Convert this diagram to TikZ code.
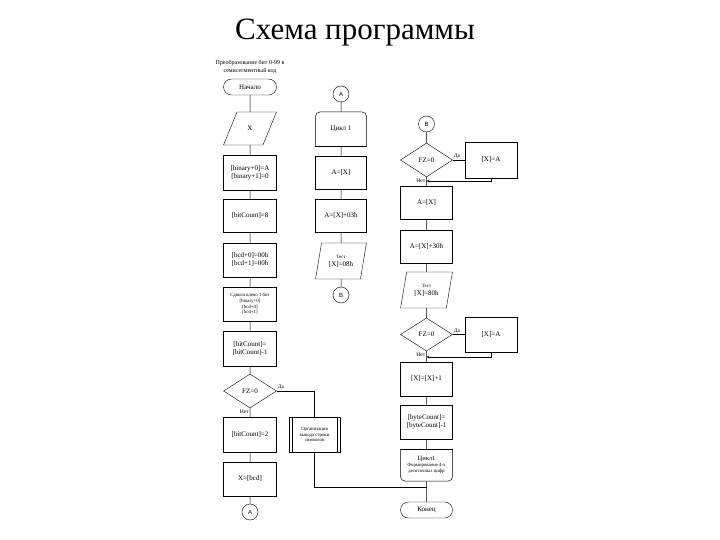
\documentclass[tikz,border=0pt]{standalone}
\usepackage{fontspec}
\setmainfont{Liberation Serif}
\newfontfamily\sansf{Liberation Sans}
\usetikzlibrary{shapes.geometric,arrows.meta}
\begin{document}
\begin{tikzpicture}[x=1pt,y=-1pt,
  every node/.style={font=\fontsize{7}{8}\selectfont, inner sep=1pt},
  box/.style={draw, minimum width=53pt, minimum height=#1, align=center},
  box/.default=34pt,
  term/.style={draw, rounded corners=8pt, minimum width=53pt, minimum height=16pt},
  io/.style={draw, trapezium, trapezium stretches=true, minimum width=53pt, minimum height=#1, align=center, inner sep=0pt},
  io/.default=36pt,
  decis/.style={draw, diamond, minimum width=52pt, minimum height=34pt, inner sep=0pt},
  conn/.style={draw, circle, minimum size=16pt, inner sep=0pt, font=\sansf\fontsize{6}{7}\selectfont},
  lbl/.style={font=\fontsize{5.5}{6}\selectfont, inner sep=1pt},
  small/.style={font=\fontsize{4.8}{5.6}\selectfont},
  flow/.style={line width=0.5pt},
  ret/.style={line width=0.5pt, -{Stealth[length=3pt,width=2.5pt]}}
]
\useasboundingbox (0,0) rectangle (720,540);
\node[font=\fontsize{31}{34}\selectfont] (title) at (355,33) {Схема программы};

% left column
\node[font=\fontsize{6}{7.5}\selectfont, align=center] (hdr) at (250,67) {Преобразование бит 0-99 в\\семисегментный код};
\node[term] (start) at (250,87) {Начало};
\node[io=33pt, trapezium left angle=60, trapezium right angle=120] (x) at (250,128.5) {X};
\node[box=35pt] (bin) at (250,172.5) {[binary+0]=A\\{}[binary+1]=0};
\node[box=33pt] (bc8) at (250,215.5) {[bitCount]=8};
\node[box=34pt] (bcd) at (250,260) {[bcd+0]=00h\\{}[bcd+1]=00h};
\node[box=34pt, small] (shift) at (250,304) {Сдвиги влево 1 бит\\{}[binary+0]\\{}[bcd+0]\\{}[bcd+1]};
\node[box=35pt] (dec) at (250,348.5) {[bitCount]=\\{}[bitCount]-1};
\node[decis, minimum width=53pt] (fz1) at (250,391) {FZ=0};
\node[box=35pt] (bc2) at (250,434.5) {[bitCount]=2};
\node[box=34pt] (xbcd) at (250,479) {X=[bcd]};
\node[conn] (a1) at (250,512) {A};
\node[box=35pt, minimum width=51pt, small] (org) at (314.5,434.5) {Организация\\вывода строки\\символов};
\draw[flow] ([xshift=3pt]org.north west) -- ([xshift=3pt]org.south west);
\draw[flow] ([xshift=-3pt]org.north east) -- ([xshift=-3pt]org.south east);

\draw[flow] (start) -- (x) -- (bin) -- (bc8) -- (bcd) -- (shift) -- (dec) -- (fz1) -- (bc2) -- (xbcd) -- (a1);
\draw[flow] (fz1.east) -| (org.north);
\node[lbl, anchor=south west] at (fz1.east) {Да};
\node[lbl, anchor=north east] at (fz1.south) {Нет};
\coordinate (j) at (426.5,487);
\draw[flow] (org.south) |- (j);

% middle column
\node[conn] (a2) at (341,94) {A};
\node[box=34pt, minimum width=51pt, draw=none] (c1) at (341,129) {Цикл 1};
\draw[flow, rounded corners=5pt] (c1.south west) -- (c1.north west) -- (c1.north east) -- (c1.south east);
\draw[flow] (c1.south west) -- (c1.south east);
\node[box=33pt, minimum width=51pt] (ax) at (341,172.5) {A=[X]};
\node[box=33pt, minimum width=51pt] (ax3) at (341,215.5) {A=[X]+03h};
\node[io=36pt, minimum width=51pt, trapezium left angle=73, trapezium right angle=107] (t1) at (341,261) {{\fontsize{4.8}{5.6}\selectfont Тест}\\{}[X]=08h};
\node[conn] (b1) at (341,295) {B};
\draw[flow] (a2) -- (c1) -- (ax) -- (ax3) -- (t1) -- (b1);

% right column
\node[conn] (b2) at (426.5,124) {B};
\node[decis] (fz2) at (426.5,160) {FZ=0};
\node[box=36pt, minimum width=52pt] (fx1) at (491,160) {[X]=A};
\node[box=33pt, minimum width=52pt] (a3) at (426.5,202.5) {A=[X]};
\node[box=33pt, minimum width=52pt] (a30) at (426.5,246.5) {A=[X]+30h};
\node[io=36pt, minimum width=52pt, trapezium left angle=73, trapezium right angle=107] (t2) at (426.5,290) {{\fontsize{4.8}{5.6}\selectfont Тест}\\{}[X]=80h};
\node[decis, minimum height=33pt] (fz3) at (426.5,334.5) {FZ=0};
\node[box=35pt, minimum width=52pt] (fx2) at (491,334.5) {[X]=A};
\node[box=34pt, minimum width=52pt] (inc) at (426.5,379) {[X]=[X]+1};
\node[box=34pt, minimum width=52pt] (byc) at (426.5,422) {[byteCount]=\\{}[byteCount]-1};
\node[box=32pt, minimum width=52pt, draw=none, font=\fontsize{4.8}{6}\selectfont] (le) at (426.5,465) {{\fontsize{6.5}{7}\selectfont Цикл1}\\Формирование 4-х\\десятичных цифр};
\draw[flow, rounded corners=5pt] (le.north west) -- (le.south west) -- (le.south east) -- (le.north east);
\draw[flow] (le.north west) -- (le.north east);
\node[term, minimum width=52pt] (end) at (426.5,510) {Конец};

\draw[flow] (b2) -- (fz2) -- (a3) -- (a30) -- (t2) -- (fz3) -- (inc) -- (byc) -- (le) -- (end);
\draw[flow] (fz2.east) -- (fx1.west);
\draw[flow] (fz3.east) -- (fx2.west);
\node[lbl, anchor=south west] at (fz2.east) {Да};
\node[lbl, anchor=south west] at (fz3.east) {Да};
\node[lbl, anchor=north east] at (fz2.south) {Нет};
\node[lbl, anchor=north east] at (fz3.south) {Нет};
\coordinate (r1) at (426.5,181);
\coordinate (r2) at (426.5,357);
\draw[ret] (fx1.south) |- (r1);
\draw[ret] (fx2.south) |- (r2);
\end{tikzpicture}
\end{document}
